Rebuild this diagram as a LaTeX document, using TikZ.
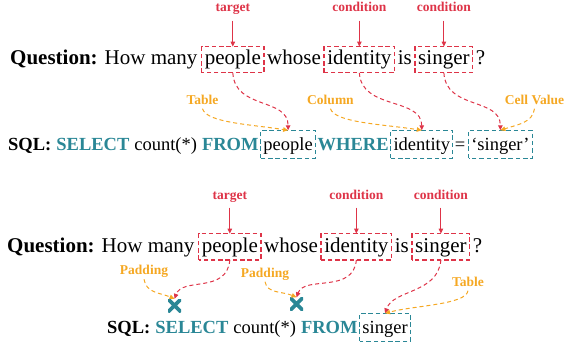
\documentclass[tikz,border=0pt]{standalone}
\usepackage{fontspec}
\setmainfont{Liberation Serif}
\usetikzlibrary{arrows.meta,positioning}
\definecolor{qred}{RGB}{222,52,72}
\definecolor{qorange}{RGB}{245,168,35}
\definecolor{qteal}{RGB}{42,135,150}
\newcommand\qfont{\fontsize{21}{25}\selectfont}
\newcommand\sqlfont{\fontsize{18.5}{22}\selectfont}
\newcommand\labfont{\bfseries\fontsize{13.5}{15}\selectfont}
\tikzset{
  word/.style={inner sep=0pt, anchor=base west, font=\qfont},
  qbox/.style={inner xsep=3pt, inner ysep=3.2pt, text height=15pt, text depth=4.5pt,
    anchor=base west, font=\qfont},
  sword/.style={inner sep=0pt, anchor=base west, font=\sqlfont},
  skey/.style={sword, font=\sqlfont\bfseries, text=qteal},
  sbox/.style={inner xsep=2.5pt, inner ysep=3.5pt, text height=16pt, text depth=4.5pt,
    anchor=base west, font=\sqlfont},
  rframe/.style={draw=qred, dash pattern=on 4.5pt off 2.8pt, line width=1.2pt},
  tframe/.style={draw=qteal, dash pattern=on 4.5pt off 2.8pt, line width=1.2pt},
  rlab/.style={text=qred, font=\labfont, inner sep=1.5pt, text depth=3pt, anchor=base},
  olab/.style={text=qorange, font=\labfont, inner sep=1.5pt, text depth=3pt, anchor=base},
  tip/.style={-{Triangle[length=5pt,width=4.5pt]}},
  rarrow/.style={draw=qred, line width=1pt, tip, shorten <=4pt},
  rcurve/.style={draw=qred, line width=1pt, tip, dash pattern=on 4pt off 3pt},
  ocurve/.style={draw=qorange, line width=1pt, tip, dash pattern=on 4pt off 3pt},
  xmark/.style={minimum size=13pt, inner sep=0pt,
    path picture={\draw[qteal, line width=3.6pt]
      (path picture bounding box.north west) -- (path picture bounding box.south east)
      (path picture bounding box.north east) -- (path picture bounding box.south west);}},
}
\begin{document}
\begin{tikzpicture}[x=1pt,y=-1pt]
\useasboundingbox (0,0) rectangle (565,345);

% ---------- top example ----------
\node[word] (q1) at (10,65) {\textbf{Question:} How many};
\node[qbox] (pq) at ([xshift=4pt]q1.base east) {people};
\node[word] (q2) at ([xshift=3pt]pq.base east) {whose};
\node[qbox] (iq) at ([xshift=3pt]q2.base east) {identity};
\node[word] (q3) at ([xshift=3pt]iq.base east) {is};
\node[qbox] (sq) at ([xshift=3pt]q3.base east) {singer};
\node[word] (q4) at ([xshift=3pt]sq.base east) {?};

\node[sword] (s1) at (8,150) {\textbf{SQL:}};
\node[skey] (s1k) at ([xshift=4.6pt]s1.base east) {SELECT};
\node[sword] (s1c) at ([xshift=4.6pt]s1k.base east) {count(*)};
\node[skey] (s1f) at ([xshift=4.6pt]s1c.base east) {FROM};
\node[sbox] (ps) at ([xshift=2pt]s1f.base east) {people};
\node[skey] (s2) at ([xshift=2pt]ps.base east) {WHERE};
\node[sbox] (is) at ([xshift=2pt]s2.base east) {identity};
\node[sword] (s3) at ([xshift=2pt]is.base east) {=};
\node[sbox] (vs) at ([xshift=3pt]s3.base east) {‘singer’};

\node[rlab] (t1) at (pq.north |- 0,12) {target};
\node[rlab] (c1) at (iq.north |- 0,12) {condition};
\node[rlab] (c2) at (sq.north |- 0,12) {condition};
\node[olab] (tl) at (202.5,104) {Table};
\node[olab] (cl) at (330.5,104) {Column};
\node[olab] (cvl) at (534.5,104) {Cell Value};

% ---------- bottom example ----------
\node[word] (b1) at (7,252) {\textbf{Question:} How many};
\node[qbox] (pq2) at ([xshift=4pt]b1.base east) {people};
\node[word] (b2) at ([xshift=3pt]pq2.base east) {whose};
\node[qbox] (iq2) at ([xshift=3pt]b2.base east) {identity};
\node[word] (b3) at ([xshift=3pt]iq2.base east) {is};
\node[qbox] (sq2) at ([xshift=3pt]b3.base east) {singer};
\node[word] (b4) at ([xshift=3pt]sq2.base east) {?};

\node[sword] (u1) at (107,333) {\textbf{SQL:}};
\node[skey] (u1k) at ([xshift=4.6pt]u1.base east) {SELECT};
\node[sword] (u1c) at ([xshift=4.6pt]u1k.base east) {count(*)};
\node[skey] (u1f) at ([xshift=4.6pt]u1c.base east) {FROM};
\node[sbox] (sb) at ([xshift=2pt]u1f.base east) {singer};

\node[rlab] (t3) at (pq2.north |- 0,199) {target};
\node[rlab] (c3) at (iq2.north |- 0,199) {condition};
\node[rlab] (c4) at (sq2.north |- 0,199) {condition};
\node[olab] (pl1) at (144,274.5) {Padding};
\node[olab] (pl2) at (265,277) {Padding};
\node[olab] (tl2) at (468,286) {Table};

\node[xmark] (x1) at (174.5,305.5) {};
\node[xmark] (x2) at (296.5,304) {};

% ---------- frames ----------
\foreach \n in {pq,iq,sq,pq2,iq2,sq2}
  \draw[rframe] (\n.south west) rectangle (\n.north east);
\foreach \n in {ps,is,vs,sb}
  \draw[tframe] (\n.south west) rectangle (\n.north east);

% ---------- connectors ----------
\draw[rarrow] (t1.south) -- (pq.north);
\draw[rarrow] (c1.south) -- (iq.north);
\draw[rarrow] (c2.south) -- (sq.north);
\draw[rcurve] (pq.south) .. controls +(2,37) and +(0,-33) .. (ps.north);
\draw[ocurve] (tl.south) .. controls +(4,14) and +(-38,-6) .. (ps.north);
\draw[rcurve] (iq.south) .. controls +(2,37) and +(0,-33) .. (is.north);
\draw[ocurve] (cl.south) .. controls +(4,14) and +(-38,-6) .. (is.north);
\draw[rcurve] (sq.south) .. controls +(2,37) and +(0,-33) .. (vs.north);
\draw[ocurve] (cvl.south) .. controls +(-2,14) and +(18,-6) .. (vs.north);

\draw[rarrow] (t3.south) -- (pq2.north);
\draw[rarrow] (c3.south) -- (iq2.north);
\draw[rarrow] (c4.south) -- (sq2.north);
\draw[rcurve] (pq2.south) .. controls +(-3,34) and +(8,-22) .. (x1.north);
\draw[ocurve] (pl1.south) .. controls +(2,14) and +(-14,-6) .. (x1.north);
\draw[rcurve] (iq2.south) .. controls +(-3,34) and +(8,-22) .. (x2.north);
\draw[ocurve] (pl2.south) .. controls +(2,12) and +(-14,-6) .. (x2.north);
\draw[rcurve] (sq2.south) .. controls +(-3,34) and +(8,-24) .. (sb.north);
\draw[ocurve] (tl2.south) .. controls +(-2,14) and +(30,-8) .. (sb.north);
\end{tikzpicture}
\end{document}
